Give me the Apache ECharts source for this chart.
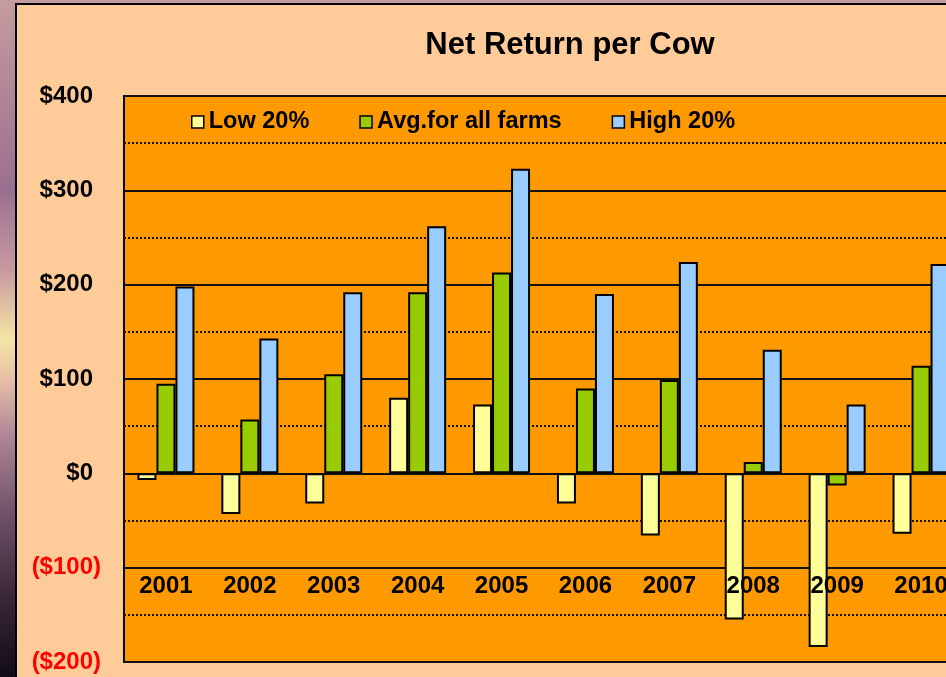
<!DOCTYPE html>
<html>
<head>
<meta charset="utf-8">
<script src="https://cdn.jsdelivr.net/npm/echarts@6/dist/echarts.min.js"></script>
<style>
    html, body {
        margin: 0;
        width: 946px;
        height: 677px;
        overflow: hidden;
        background: linear-gradient(to bottom, #c59ca0 0%, #b48898 12%, #9a7090 28%, #c89aa0 40%, #f4e4a4 50%, #e8c0a8 56%, #b08898 64%, #705068 76%, #3a2838 88%, #120a18 100%);
    }
    #panel {
        position: absolute;
        left: 15px;
        top: 3px;
        width: 1000px;
        height: 720px;
        background: #ffcc99;
        border: 2px solid #000;
    }
    #main {
        position: absolute;
        left: 0;
        top: 0;
        width: 1000px;
        height: 677px;
    }
</style>
</head>
<body>
<div id="panel"></div>
<div id="main"></div>
<script>
// values, $ per cow
const years = ["2001", "2002", "2003", "2004", "2005", "2006", "2007", "2008", "2009", "2010"];
const low20 = [-7, -43, -32, 80, 73, -32, -66, -155, -184, -64];
const avgAll = [95, 57, 105, 192, 213, 90, 99, 12, -13, 114];
const high20 = [198, 143, 192, 262, 323, 190, 224, 131, 73, 222];

const FONT = "'Liberation Sans', Arial, sans-serif";

const myChart = echarts.init(document.getElementById("main"));

const barStyle = color => ({
    color: color,
    borderColor: "#000",
    borderWidth: 2
});

const option = {
    animation: false,
    title: {
        text: "Net Return per Cow",
        left: 565,
        top: 25,
        textAlign: "center",
        textStyle: {
            fontFamily: FONT,
            fontSize: 31,
            fontWeight: "bold",
            color: "#000"
        }
    },
    legend: {
        left: 186,
        top: 105,
        itemWidth: 12,
        itemHeight: 12,
        itemGap: 50,
        icon: "rect",
        itemStyle: { borderWidth: 1.5 },
        textStyle: {
            fontFamily: FONT,
            fontSize: 23.5,
            fontWeight: "bold",
            color: "#000"
        }
    },
    grid: {
        left: 124,
        top: 96,
        width: 839,
        height: 566,
        show: true,
        backgroundColor: "#ff9900",
        borderColor: "#000",
        borderWidth: 2
    },
    xAxis: {
        type: "category",
        data: years,
        z: 10,
        axisLine: { show: false },
        axisTick: { show: false },
        axisLabel: {
            margin: -76,
            verticalAlign: "middle",
            fontFamily: FONT,
            fontSize: 24,
            fontWeight: "bold",
            color: "#000"
        }
    },
    yAxis: {
        type: "value",
        min: -200,
        max: 400,
        interval: 100,
        axisLine: { show: false },
        axisTick: { show: false },
        minorTick: { show: false, splitNumber: 2 },
        splitLine: {
            lineStyle: { color: "#111", width: 2 }
        },
        minorSplitLine: {
            show: true,
            lineStyle: { color: "#111", width: 2, type: [2, 2] }
        },
        axisLabel: {
            margin: 23,
            fontFamily: FONT,
            fontSize: 24,
            fontWeight: "bold",
            color: value => (value < 0 ? "#ff0000" : "#000"),
            formatter: value => (value < 0 ? `($${-value})` : `$${value}{pad|)}`),
            rich: {
                pad: {
                    fontFamily: FONT,
                    fontSize: 24,
                    fontWeight: "bold",
                    color: "rgba(0,0,0,0)"
                }
            }
        }
    },
    series: [
        {
            name: "Low 20%",
            type: "bar",
            barWidth: 19,
            barGap: "0%",
            itemStyle: barStyle("#ffff99"),
            data: low20
        },
        {
            name: "Avg.for all farms",
            type: "bar",
            barWidth: 19,
            barGap: "0%",
            itemStyle: barStyle("#99cc00"),
            data: avgAll
        },
        {
            name: "High 20%",
            type: "bar",
            barWidth: 19,
            barGap: "0%",
            itemStyle: barStyle("#99ccff"),
            data: high20
        }
    ]
};

myChart.setOption(option);
</script>
</body>
</html>
